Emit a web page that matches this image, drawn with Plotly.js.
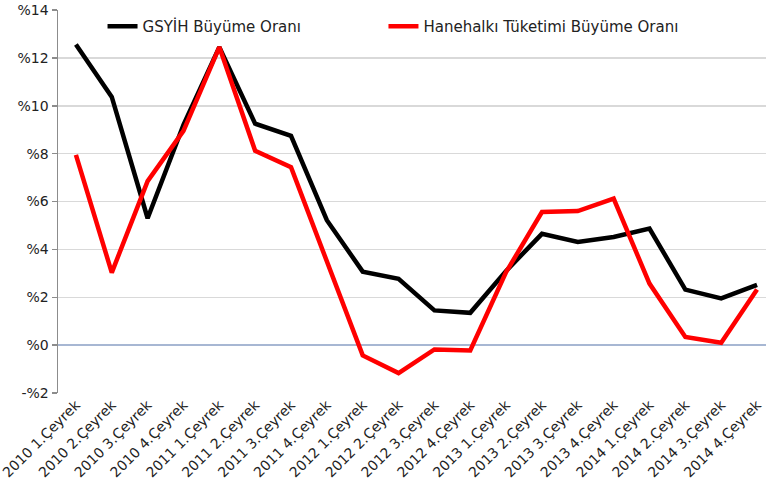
<!DOCTYPE html>
<html>
<head>
<meta charset="utf-8">
<script src="https://cdn.plot.ly/plotly-3.0.1.min.js"></script>
<style>html,body{margin:0;padding:0;background:#fff;}#chart{width:766px;height:494px;}</style>
</head>
<body>
<div id="chart"></div>
<script>
var categories = ["2010 1.Çeyrek","2010 2.Çeyrek","2010 3.Çeyrek","2010 4.Çeyrek",
  "2011 1.Çeyrek","2011 2.Çeyrek","2011 3.Çeyrek","2011 4.Çeyrek",
  "2012 1.Çeyrek","2012 2.Çeyrek","2012 3.Çeyrek","2012 4.Çeyrek",
  "2013 1.Çeyrek","2013 2.Çeyrek","2013 3.Çeyrek","2013 4.Çeyrek",
  "2014 1.Çeyrek","2014 2.Çeyrek","2014 3.Çeyrek","2014 4.Çeyrek"];
var gsyihValues = [12.56, 10.37, 5.3, 9.2, 12.45, 9.25, 8.74, 5.22, 3.07, 2.77, 1.45, 1.35,
  3.1, 4.65, 4.31, 4.52, 4.87, 2.32, 1.95, 2.52];
var haneValues = [7.95, 3.03, 6.85, 8.95, 12.45, 8.12, 7.43, 3.45, -0.43, -1.17, -0.18, -0.22,
  3.05, 5.56, 5.6, 6.12, 2.57, 0.34, 0.1, 2.32];
var yTickVals = [-2, 0, 2, 4, 6, 8, 10, 12, 14];
var yTickText = ["-%2", "%0", "%2", "%4", "%6", "%8", "%10", "%12", "%14"];
var seriesNames = ["GSYİH Büyüme Oranı", "Hanehalkı Tüketimi Büyüme Oranı"];

var fontFam = "DejaVu Sans, Verdana, sans-serif";
var legendFont = {family: fontFam, size: 15, color: "#222222"};
var traces = [
  {x: categories, y: gsyihValues, name: seriesNames[0], type: "scatter", mode: "lines",
   line: {color: "#000000", width: 4.5}, legend: "legend"},
  {x: categories, y: haneValues, name: seriesNames[1], type: "scatter", mode: "lines",
   line: {color: "#ff0000", width: 4.5}, legend: "legend2"}
];
var layout = {
  width: 766, height: 494,
  margin: {l: 58, r: 0, t: 10, b: 101},
  paper_bgcolor: "#ffffff", plot_bgcolor: "#ffffff",
  font: {family: fontFam, size: 13, color: "#222222"},
  showlegend: true,
  legend: {orientation: "h", x: 0.0629, xanchor: "left", y: 1.0, yanchor: "top",
    font: legendFont, bgcolor: "rgba(255,255,255,0)"},
  legend2: {orientation: "h", x: 0.4597, xanchor: "left", y: 1.0, yanchor: "top",
    font: legendFont, bgcolor: "rgba(255,255,255,0)"},
  xaxis: {type: "category", range: [-0.5, 19.25], tickangle: -45, showgrid: false,
    showline: false, ticks: "", tickfont: {family: fontFam, size: 14, color: "#222222"},
    fixedrange: true},
  yaxis: {range: [-2, 14], tickvals: yTickVals, ticktext: yTickText, showgrid: true,
    gridcolor: "#d9d9d9", gridwidth: 1.5, zeroline: true, zerolinecolor: "#a7b7d3",
    zerolinewidth: 1.5, showline: true, linecolor: "#8c8c8c", linewidth: 1.5,
    ticks: "outside", ticklen: 5, tickcolor: "#8c8c8c", tickwidth: 1.5,
    tickfont: {family: fontFam, size: 14, color: "#222222"}, fixedrange: true}
};
Plotly.newPlot("chart", traces, layout, {displayModeBar: false, staticPlot: true});
</script>
</body>
</html>
